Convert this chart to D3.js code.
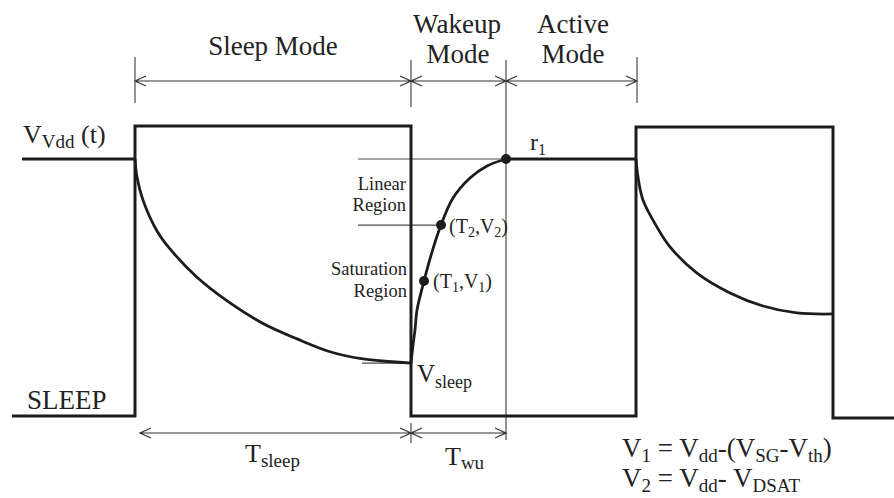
<!DOCTYPE html>
<html>
<head>
<meta charset="utf-8">
<script src="https://cdn.jsdelivr.net/npm/d3@7"></script>
<style>
  body { margin: 0; background: #fff; }
  svg text, svg tspan { font-family: "Liberation Serif"; }
</style>
</head>
<body>
<div id="chart"></div>
<script>
// time axis in arbitrary units, voltage normalised to Vdd = 1
const sleepTimes  = [-12.3, 0, 0, 27.6, 27.6, 50.1, 50.1, 69.8, 69.8, 76];
const sleepLevels = [0, 0, 1.128, 1.128, 0, 0, 1.125, 1.125, -0.008, -0.008];

const vddBefore = [[-11.3, 1.0], [0, 1.0]];
const sleepDecay = [
  [0, 1.0], [0.2, 0.93], [0.8, 0.84], [2.2, 0.72], [3.5, 0.65], [6.2, 0.54],
  [9.5, 0.44], [12.8, 0.36], [16.2, 0.30], [19.5, 0.25], [22.8, 0.222], [27.6, 0.206]
];
const wakeupRise = [
  [27.6, 0.206], [27.8, 0.276], [28.0, 0.335], [28.2, 0.412], [28.9, 0.525],
  [29.7, 0.638], [30.6, 0.743], [31.8, 0.848], [33.5, 0.926], [35.2, 0.973], [37.1, 1.0]
];
const activeFlat = [[37.1, 1.0], [50.1, 1.0]];
const secondDecay = [
  [50.1, 1.0], [50.3, 0.93], [50.8, 0.84], [52.2, 0.735], [53.5, 0.658],
  [56.2, 0.556], [59.5, 0.479], [62.8, 0.428], [66.2, 0.401], [69.8, 0.397]
];

// marked points (T1,V1), (T2,V2), r1
const keyPoints = [[28.9, 0.525], [30.6, 0.743], [37.1, 1.0]];

// mode boundaries
const tSleep = 0, tWake = 27.6, tActive = 37.1, tEnd = 50.2;
const vSleep = 0.206, v2 = 0.743;

const width = 894, height = 498;
const serif = 'Liberation Serif';

const svg = d3.select('#chart')
  .append('svg')
    .attr('width', width)
    .attr('height', height);

const x = d3.scaleLinear().domain([0, 70]).range([135, 835]);
const y = d3.scaleLinear().domain([0, 1]).range([416, 159]);

const line = d3.line()
  .x(d => x(d[0]))
  .y(d => y(d[1]));
const smooth = d3.line()
  .x(d => x(d[0]))
  .y(d => y(d[1]))
  .curve(d3.curveCatmullRom.alpha(0.5));

const ink = '#1c1c1c';
const thin = '#4a4a4a';

// thin guide lines
const guides = [
  [[22.3, 1.0], [37.1, 1.0]],
  [[22.3, v2], [30.6, v2]],
  [[22.7, vSleep], [27.6, vSleep]]
];
svg.selectAll('.guide')
  .data(guides)
  .join('path')
    .attr('class', 'guide')
    .attr('d', line)
    .attr('fill', 'none')
    .attr('stroke', thin)
    .attr('stroke-width', 1.2);

// long vertical at end of wakeup
svg.append('line')
  .attr('x1', x(tActive)).attr('x2', x(tActive))
  .attr('y1', 60).attr('y2', 440)
  .attr('stroke', thin)
  .attr('stroke-width', 1.2);

// SLEEP signal
svg.append('path')
  .attr('d', line(sleepTimes.map((t, i) => [t, sleepLevels[i]])))
  .attr('fill', 'none')
  .attr('stroke', ink)
  .attr('stroke-width', 3);

// Vdd trace
svg.append('path')
  .attr('d', line(vddBefore))
  .attr('fill', 'none').attr('stroke', ink).attr('stroke-width', 3);
[sleepDecay, wakeupRise, secondDecay].forEach(seg => {
  svg.append('path')
    .attr('d', smooth(seg))
    .attr('fill', 'none').attr('stroke', ink).attr('stroke-width', 2.8);
});
svg.append('path')
  .attr('d', line(activeFlat))
  .attr('fill', 'none').attr('stroke', ink).attr('stroke-width', 3);

svg.selectAll('.pt')
  .data(keyPoints)
  .join('circle')
    .attr('class', 'pt')
    .attr('cx', d => x(d[0]))
    .attr('cy', d => y(d[1]))
    .attr('r', 5)
    .attr('fill', ink);

// dimension arrows
function dimension(t0, t1, yy) {
  const a = x(t0), b = x(t1);
  svg.append('path')
    .attr('d', `M${a},${yy}L${b},${yy}` +
      `M${a + 11},${yy - 5}L${a},${yy}L${a + 11},${yy + 5}` +
      `M${b - 11},${yy - 5}L${b},${yy}L${b - 11},${yy + 5}`)
    .attr('fill', 'none')
    .attr('stroke', '#333')
    .attr('stroke-width', 1.2);
}
function tick(t, y0, y1) {
  svg.append('line')
    .attr('x1', x(t)).attr('x2', x(t))
    .attr('y1', y0).attr('y2', y1)
    .attr('stroke', thin)
    .attr('stroke-width', 1.2);
}
dimension(tSleep, tWake, 81);
dimension(tWake, tActive, 81);
dimension(tActive, tEnd, 81);
tick(tSleep, 57, 103);
tick(tWake, 60, 107);
tick(tEnd, 57, 103);

dimension(0.5, tWake, 433);
dimension(tWake, tActive, 433);
tick(tWake, 423, 443);

// text with subscripts: parts = [text, size, dy]
function label(px, py, parts, anchor) {
  const t = svg.append('text')
    .attr('x', px).attr('y', py)
    .attr('font-family', serif)
    .attr('font-size', parts[0][1])
    .attr('fill', '#222')
    .attr('text-anchor', anchor || 'start');
  parts.forEach(p => {
    t.append('tspan')
      .attr('font-size', p[1])
      .attr('dy', p[2] || 0)
      .text(p[0]);
  });
  return t;
}

label(273, 55, [['Sleep Mode', 27]], 'middle');
label(457, 33, [['Wakeup', 27]], 'middle');
label(458, 63, [['Mode', 27]], 'middle');
label(573, 33, [['Active', 27]], 'middle');
label(573, 63, [['Mode', 27]], 'middle');

label(23, 143, [['V', 26], ['Vdd', 19, 5], [' (t)', 26, -5]]);
label(27, 409, [['SLEEP', 27]]);

label(406, 190, [['Linear', 18.5]], 'end');
label(406, 211, [['Region', 18.5]], 'end');
label(407, 275, [['Saturation', 18.5]], 'end');
label(407, 297, [['Region', 18.5]], 'end');

label(449, 233, [['(T', 20], ['2', 14, 4], [',V', 20, -4], ['2', 14, 4], [')', 20, -4]]);
label(433, 288, [['(T', 20], ['1', 14, 4], [',V', 20, -4], ['1', 14, 4], [')', 20, -4]]);
label(530, 150, [['r', 24], ['1', 16, 5]]);

label(417, 382, [['V', 25], ['sleep', 18, 6]]);
label(245, 462, [['T', 26], ['sleep', 19, 5]]);
label(445, 465, [['T', 26], ['wu', 19, 4]]);

label(622, 457, [['V', 27], ['1', 19, 5], [' = V', 27, -5], ['dd', 19, 5],
  ['-(V', 27, -5], ['SG', 19, 5], ['-V', 27, -5], ['th', 19, 5], [')', 27, -5]]);
label(622, 487, [['V', 27], ['2', 19, 5], [' = V', 27, -5], ['dd', 19, 5],
  ['- V', 27, -5], ['DSAT', 19, 5]]);
</script>
</body>
</html>
